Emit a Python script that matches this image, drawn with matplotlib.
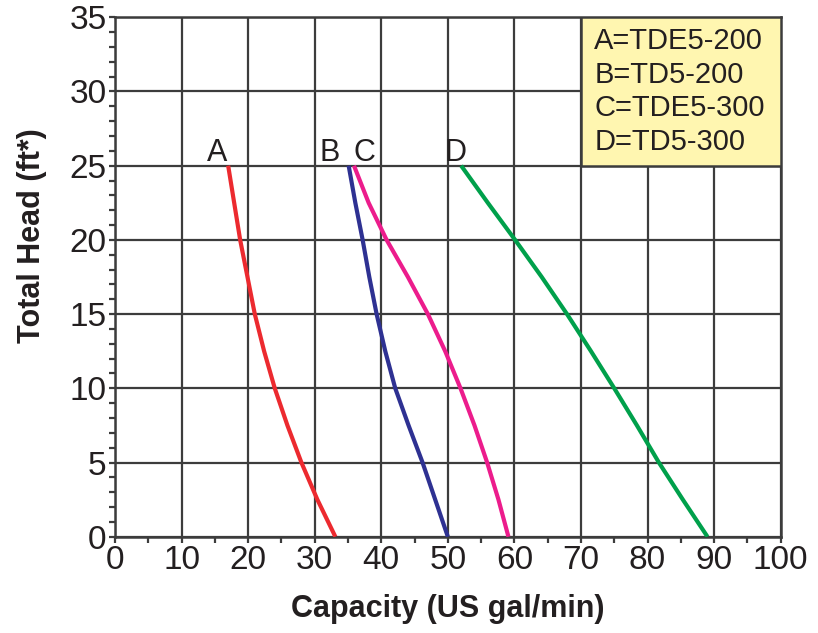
import numpy as np
from matplotlib import pyplot as plt
from matplotlib.ticker import MultipleLocator

plt.rcParams['font.family'] = ['Liberation Sans', 'DejaVu Sans']

# head (ft) points shared by all curves
head = [25, 22.5, 20, 17.5, 15, 12.5, 10, 7.5, 5, 2.5, 0]

# capacity (US gal/min) per pump
capA = [17.0, 17.9, 18.8, 19.9, 21.0, 22.4, 24.0, 25.9, 28.0, 30.4, 33.1]
capB = [35.1, 36.1, 37.2, 38.2, 39.3, 40.6, 42.1, 44.1, 46.2, 48.1, 50.0]
capC = [35.9, 38.1, 40.8, 44.0, 47.0, 49.6, 51.9, 54.0, 55.9, 57.6, 59.1]
capD = [52.0, 56.0, 60.1, 64.1, 67.9, 71.5, 75.0, 78.4, 81.7, 85.3, 89.0]

names = ["A", "B", "C", "D"]
models = ["A=TDE5-200", "B=TD5-200", "C=TDE5-300", "D=TD5-300"]
colors = ["#ec2a2f", "#2e3192", "#ec1c8c", "#00a04b"]

fig = plt.figure(figsize=(8.18, 6.33), dpi=100)
ax = fig.add_axes([0.1406, 0.1521, 0.8138, 0.8206])

gridc = "#3c3c3c"
txtc = "#231f20"
ax.set_xlim(0, 100)
ax.set_ylim(0, 35)
ax.xaxis.set_major_locator(MultipleLocator(10))
ax.xaxis.set_minor_locator(MultipleLocator(5))
ax.yaxis.set_major_locator(MultipleLocator(5))
ax.yaxis.set_minor_locator(MultipleLocator(1))
ax.grid(True, which='major', color=gridc, linewidth=1.6)
ax.set_axisbelow(True)
for s in ax.spines.values():
    s.set_color(gridc)
    s.set_linewidth(1.8)
ax.tick_params(which='both', direction='out', color=gridc, width=1.6)
ax.tick_params(which='major', length=4, labelsize=24, pad=2, labelcolor=txtc)
ax.tick_params(which='minor', length=4)

caps = [capA, capB, capC, capD]
for c, col in zip(caps, colors):
    ax.plot(c, head, color=col, linewidth=3, solid_capstyle='butt', zorder=3)

# letters above the top of each curve
offs = [-1.6, -2.8, 1.6, -0.9]
for c, n, o in zip(caps, names, offs):
    ax.text(c[0] + o, head[0] - 0.15, n, fontsize=22, ha='center', va='bottom', color=txtc)

# key box
ax.add_patch(plt.Rectangle((70, 25), 30, 10, facecolor="#fff6b0", edgecolor=gridc,
                           linewidth=1.8, zorder=4))
for i, m in enumerate(models):
    ax.text(72.0, 33.4 - i * 2.27, m, fontsize=21, ha='left', va='center',
            color=txtc, zorder=5)

ax.set_xlabel("Capacity (US gal/min)", fontsize=22, fontweight='bold', labelpad=13, color=txtc)
ax.set_ylabel("Total Head (ft*)", fontsize=22, fontweight='bold', color=txtc)
ax.yaxis.set_label_coords(-0.102, 0.58)

fig.savefig("out.png", dpi=100)
